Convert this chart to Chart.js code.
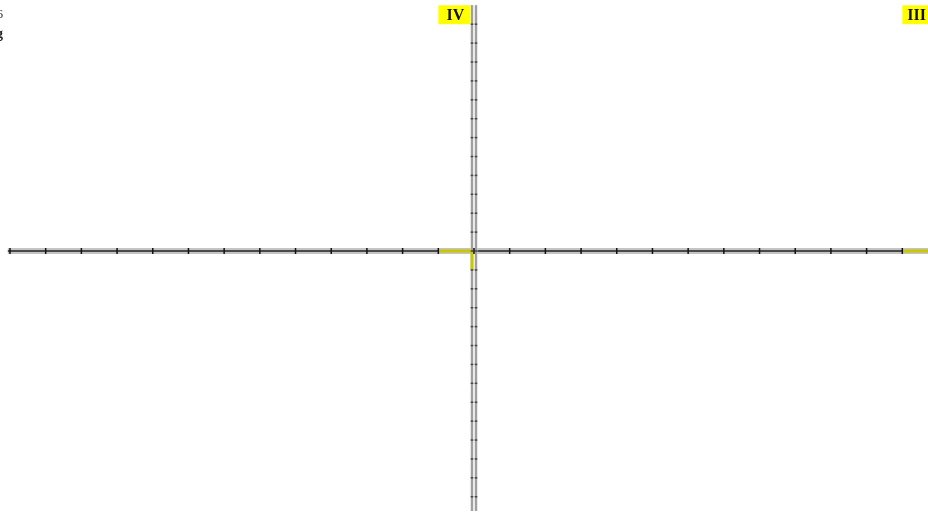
<!DOCTYPE html>
<html>
<head>
<meta charset="utf-8">
<script src="https://cdn.jsdelivr.net/npm/chart.js@4"></script>
<style>
  html, body { margin: 0; padding: 0; background: #fff; }
  #wrap { width: 928px; height: 513px; }
</style>
</head>
<body>
<div id="wrap"><canvas id="quad"></canvas></div>
<script>
// axis tick positions (units along each axis)
var xTicks = [-13, -12, -11, -10, -9, -8, -7, -6, -5, -4, -3, -2, -1, 0, 1, 2, 3, 4, 5, 6, 7, 8, 9, 10, 11, 12];
var yTicks = [12, 11, 10, 9, 8, 7, 6, 5, 4, 3, 2, 1, 0, -1, -2, -3, -4, -5, -6, -7, -8, -9, -10, -11, -12, -13];
// axis extents
var xAxisFrom = -13.06, xAxisTo = 12.72;
var yAxisFrom = 13.0, yAxisTo = -13.75;
var railGap = 0.056;
// highlighted segments
var yellowH = [-1, -railGap];
var yellowV = [0, -1];
var yellowEnd = [12, 12.72];
// quadrant labels
var quadLabels = ['IV', 'III'];
var quadLeft = [-1, 12];
var quadRight = [-0.1, 12.75];

function seg(x1, y1, x2, y2) { return [{x: x1, y: y1}, {x: x2, y: y2}]; }
function line(data, color, w) {
  return { data: data, showLine: true, borderColor: color, borderWidth: w, pointRadius: 0, fill: false };
}

var xTickPts = xTicks.map(function (v) { return {x: v, y: 0}; });
var yTickPtsL = yTicks.map(function (v) { return {x: -railGap, y: v}; });
var yTickPtsR = yTicks.map(function (v) { return {x: railGap, y: v}; });

var labelPlugin = {
  id: 'quadLabels',
  afterDatasetsDraw: function (chart) {
    var ctx = chart.ctx, xs = chart.scales.x, ys = chart.scales.y;
    ctx.save();
    quadLabels.forEach(function (t, i) {
      var l = xs.getPixelForValue(quadLeft[i]);
      var r = xs.getPixelForValue(quadRight[i]);
      var top = ys.getPixelForValue(13), bot = ys.getPixelForValue(12);
      ctx.fillStyle = '#ffff00';
      ctx.fillRect(l, top, r - l, bot - top);
      ctx.fillStyle = '#111';
      ctx.font = 'bold 16px "Liberation Serif"';
      ctx.textAlign = 'center';
      ctx.textBaseline = 'middle';
      ctx.fillText(t, (l + r) / 2 + 1, (top + bot) / 2 + 1);
    });
    ctx.font = '12px "Liberation Serif"';
    ctx.textAlign = 'left';
    ctx.textBaseline = 'alphabetic';
    ctx.fillStyle = '#222';
    ctx.fillText('6', -3, 18);
    ctx.font = 'bold 14px "Liberation Serif"';
    ctx.fillText('g', -4, 38);
    ctx.restore();
  }
};

var sets = [
  line(seg(xAxisFrom, 0, xAxisTo, 0), '#c4c4c4', 6),
  line(seg(xAxisFrom, 0, xAxisTo, 0), '#4a4a4a', 2),
  line(seg(-railGap, yAxisFrom, -railGap, yAxisTo), '#d4d4d4', 3),
  line(seg(-railGap, yAxisFrom, -railGap, yAxisTo), '#999999', 1),
  line(seg(railGap, yAxisFrom, railGap, yAxisTo), '#d4d4d4', 3),
  line(seg(railGap, yAxisFrom, railGap, yAxisTo), '#999999', 1),
  line(seg(yellowH[0], 0, yellowH[1], 0), '#c8c800', 3),
  line(seg(-railGap, yellowV[0], -railGap, yellowV[1]), '#c8c800', 3),
  line(seg(yellowEnd[0], 0, yellowEnd[1], 0), '#c8c800', 3),
  { data: xTickPts, pointStyle: 'line', rotation: 90, pointRadius: 3, borderColor: '#111', borderWidth: 1.5 },
  { data: yTickPtsL, pointStyle: 'line', pointRadius: 1.3, borderColor: '#444', borderWidth: 1.5 },
  { data: yTickPtsR, pointStyle: 'line', pointRadius: 1.3, borderColor: '#444', borderWidth: 1.5 }
];
// later datasets go on top
sets.forEach(function (d, i) { d.order = sets.length - i; });

new Chart(document.getElementById('quad').getContext('2d'), {
  type: 'scatter',
  data: { datasets: sets },
  options: {
    responsive: true,
    maintainAspectRatio: false,
    animation: false,
    layout: { padding: 0, autoPadding: false },
    plugins: { legend: { display: false }, tooltip: { enabled: false } },
    scales: {
      x: { type: 'linear', display: false, min: -13.28, max: 12.72 },
      y: { type: 'linear', display: false, min: -13.86, max: 13.28 }
    }
  },
  plugins: [labelPlugin]
});
</script>
</body>
</html>
